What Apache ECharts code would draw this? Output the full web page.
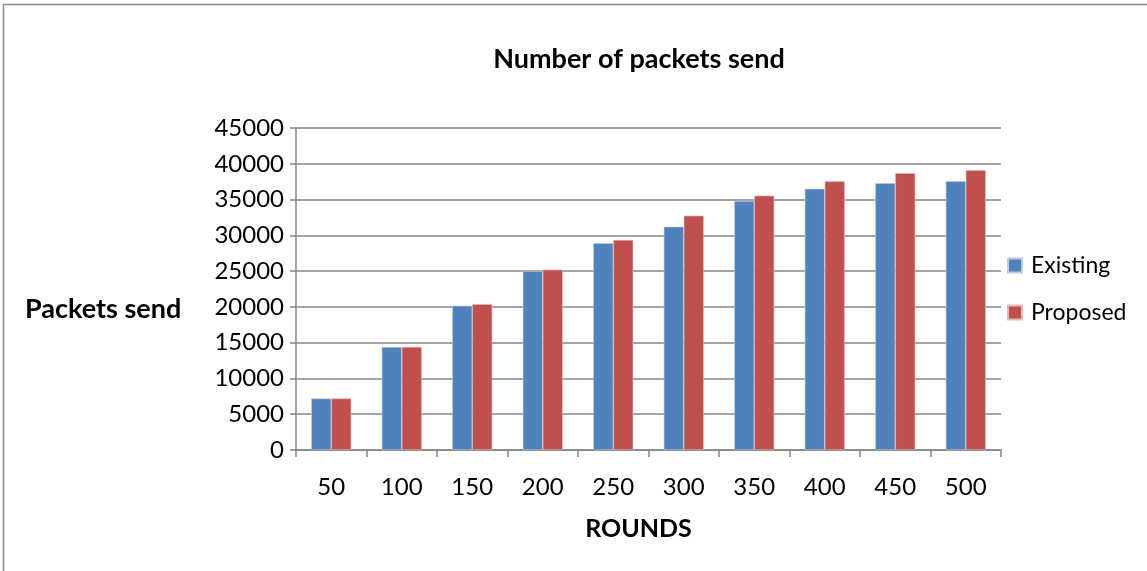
<!DOCTYPE html>
<html>
<head>
<meta charset="utf-8">
<script src="https://cdn.jsdelivr.net/npm/echarts@6/dist/echarts.min.js"></script>
<style>
  html, body { margin: 0; padding: 0; background: #fff; }
  #chart { width: 1147px; height: 571px; }
</style>
</head>
<body>
<div id="chart"></div>
<script>
// Rounds on the x axis
const rounds = ['50', '100', '150', '200', '250', '300', '350', '400', '450', '500'];
// Packets sent per round count
const existing = [7200, 14400, 20150, 25000, 28900, 31200, 34800, 36500, 37300, 37550];
const proposed = [7200, 14400, 20380, 25200, 29350, 32750, 35550, 37550, 38700, 39100];
// Value axis ticks
const yTicks = [0, 5000, 10000, 15000, 20000, 25000, 30000, 35000, 40000, 45000];

const FONT = 'Lato, "Open Sans", sans-serif';
const AXIS = '#868686';

const chart = echarts.init(document.getElementById('chart'));
chart.setOption({
  backgroundColor: '#fff',
  animation: false,
  textStyle: { fontFamily: FONT },
  graphic: [{
    type: 'rect',
    shape: { x: 3.5, y: 4.5, width: 1150, height: 580 },
    style: { fill: 'none', stroke: '#8a8a8a', lineWidth: 1.5 },
    silent: true
  }, {
    type: 'text',
    left: 25, top: 296,
    style: { text: 'Packets send', font: 'bold 27px ' + FONT, fill: '#000' }
  }],
  title: {
    text: 'Number of packets send',
    left: 634, top: 41, textAlign: 'center',
    textStyle: { fontSize: 27, fontWeight: 'bold', color: '#000', fontFamily: FONT }
  },
  legend: {
    orient: 'vertical',
    left: 1002, top: 249,
    itemWidth: 14, itemHeight: 14,
    itemGap: 24,
    icon: 'rect',
    textStyle: { fontSize: 23, color: '#000', fontFamily: FONT, padding: [0, 0, 0, 4] },
    data: ['Existing', 'Proposed']
  },
  grid: { left: 296, top: 128, width: 705, height: 322, containLabel: false },
  xAxis: {
    type: 'category',
    data: rounds,
    name: 'ROUNDS',
    nameLocation: 'middle',
    nameGap: 66,
    nameTextStyle: { fontSize: 25, fontWeight: 'bold', color: '#000', fontFamily: FONT, padding: [0, 20, 0, 0] },
    axisLine: { lineStyle: { color: AXIS, width: 1.5 } },
    axisTick: { show: true, length: 7, inside: false, lineStyle: { color: AXIS, width: 1.5 } },
    axisLabel: { fontSize: 24, color: '#000', margin: 25, fontFamily: FONT },
    splitLine: { show: false }
  },
  yAxis: {
    type: 'value',
    min: yTicks[0], max: yTicks[yTicks.length - 1], interval: yTicks[1] - yTicks[0],
    axisLine: { show: true, lineStyle: { color: AXIS, width: 1.5 } },
    axisTick: { show: true, length: 6, lineStyle: { color: AXIS, width: 1.5 } },
    axisLabel: { fontSize: 24, color: '#000', margin: 12, fontFamily: FONT, formatter: v => String(v) },
    splitLine: { show: true, lineStyle: { color: AXIS, width: 1.5 } }
  },
  series: [{
    name: 'Existing',
    type: 'bar',
    data: existing,
    barWidth: 20,
    barGap: '0%',
    itemStyle: { color: '#4F81BD', borderColor: '#b9cde5', borderWidth: 0.6 }
  }, {
    name: 'Proposed',
    type: 'bar',
    data: proposed,
    barWidth: 20,
    barGap: '0%',
    itemStyle: { color: '#C0504D', borderColor: '#e6b9b8', borderWidth: 0.6 }
  }]
});
</script>
</body>
</html>
